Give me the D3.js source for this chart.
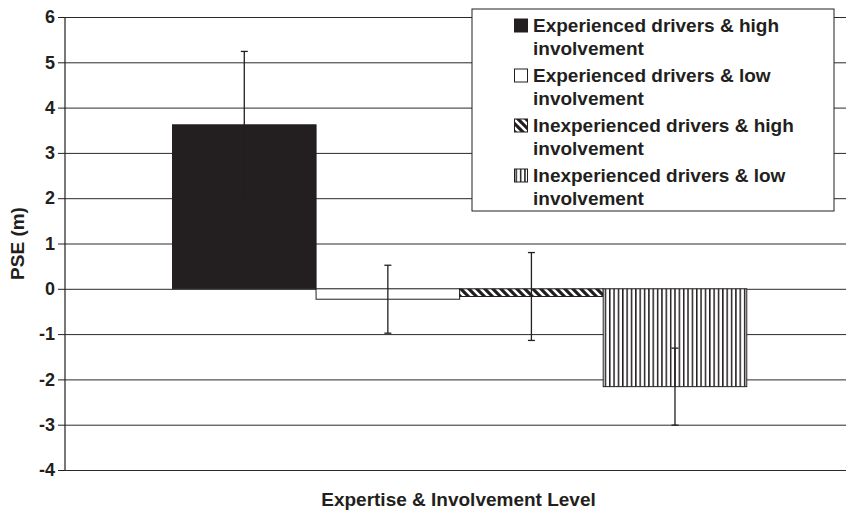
<!DOCTYPE html>
<html>
<head>
<meta charset="utf-8">
<script src="https://cdn.jsdelivr.net/npm/d3@7"></script>
<style>
    body { margin: 0; background: #fff; }
    svg { display: block; font-family: "Liberation Sans", Arial, sans-serif; font-weight: bold; }
</style>
</head>
<body>
<div id="chart"></div>
<script>
// Data
const groups = ["Expertise & Involvement Level"];
const series = [
    "Experienced drivers & high involvement",
    "Experienced drivers & low involvement",
    "Inexperienced drivers & high involvement",
    "Inexperienced drivers & low involvement"
];
const values = [3.62, -0.23, -0.17, -2.16];
const errors = [1.62, 0.75, 0.97, 0.85];
const yTicks = [-4, -3, -2, -1, 0, 1, 2, 3, 4, 5, 6];
const yTitle = "PSE (m)";
const xTitle = "Expertise & Involvement Level";

const width = 848;
const height = 510;
const margin = { top: 17, right: 2, bottom: 40, left: 65 };
const ink = "#231f20";

const svg = d3.select("#chart")
    .append("svg")
    .attr("width", width)
    .attr("height", height);

// patterns for the hatched bars
const defs = svg.append("defs");
const diag = defs.append("pattern")
    .attr("id", "diag")
    .attr("patternUnits", "userSpaceOnUse")
    .attr("width", 8)
    .attr("height", 8);
diag.append("rect").attr("width", 8).attr("height", 8).attr("fill", ink);
diag.append("path")
    .attr("d", "M0,0L8,8M-4,4L4,12M4,-4L12,4")
    .attr("stroke", "#fff")
    .attr("stroke-width", 2.6);

const vert = defs.append("pattern")
    .attr("id", "vert")
    .attr("patternUnits", "userSpaceOnUse")
    .attr("width", 4.35)
    .attr("height", 10);
vert.append("rect").attr("width", 4.35).attr("height", 10).attr("fill", "#fff");
vert.append("rect").attr("width", 1.5).attr("height", 10).attr("fill", ink);

const fills = [ink, "#fff", "url(#diag)", "url(#vert)"];

// Scales
const x0 = d3.scaleBand()
    .domain(groups)
    .range([margin.left, width - margin.right])
    .paddingOuter(0.18)
    .paddingInner(0)
    .align(0.52);

const x1 = d3.scaleBand()
    .domain(series)
    .range([0, x0.bandwidth()]);

const y = d3.scaleLinear()
    .domain([-4, 6])
    .range([height - margin.bottom, margin.top]);

// Gridlines + y axis
const yAxis = d3.axisLeft(y)
    .tickValues(yTicks)
    .tickSize(-(width - margin.left - margin.right))
    .tickPadding(10)
    .tickFormat(d => String(d));

const gy = svg.append("g")
    .attr("transform", `translate(${margin.left},0)`)
    .call(yAxis);
gy.select(".domain").remove();
gy.selectAll(".tick line")
    .attr("stroke", "#2a2a2a")
    .attr("stroke-width", 1);
gy.selectAll(".tick")
    .append("line")
    .attr("x1", -7)
    .attr("x2", 0)
    .attr("stroke", ink);
gy.selectAll(".tick text")
    .attr("fill", ink)
    .style("font-size", "18px");

// Bars
svg.append("g")
    .selectAll("rect")
    .data(series)
    .join("rect")
    .attr("x", d => x0(groups[0]) + x1(d))
    .attr("width", x1.bandwidth())
    .attr("y", (d, i) => y(Math.max(0, values[i])))
    .attr("height", (d, i) => Math.abs(y(values[i]) - y(0)))
    .attr("fill", (d, i) => fills[i])
    .attr("stroke", ink)
    .attr("stroke-width", 1);

// Error bars
const err = svg.append("g")
    .attr("stroke", ink)
    .attr("stroke-width", 1.3)
    .selectAll("g")
    .data(series)
    .join("g")
    .attr("transform", d => `translate(${x0(groups[0]) + x1(d) + x1.bandwidth() / 2},0)`);
err.append("line")
    .attr("y1", (d, i) => y(values[i] + errors[i]))
    .attr("y2", (d, i) => y(values[i] - errors[i]));
err.append("line")
    .attr("x1", -3.5).attr("x2", 3.5)
    .attr("y1", (d, i) => y(values[i] + errors[i]))
    .attr("y2", (d, i) => y(values[i] + errors[i]));
err.append("line")
    .attr("x1", -3.5).attr("x2", 3.5)
    .attr("y1", (d, i) => y(values[i] - errors[i]))
    .attr("y2", (d, i) => y(values[i] - errors[i]));

// Y axis line
svg.append("line")
    .attr("x1", margin.left).attr("x2", margin.left)
    .attr("y1", y(6)).attr("y2", y(-4))
    .attr("stroke", ink)
    .attr("stroke-width", 1.2);

// Axis titles
svg.append("text")
    .attr("x", (margin.left + width - margin.right) / 2 + 3)
    .attr("y", 506)
    .attr("text-anchor", "middle")
    .attr("fill", ink)
    .style("font-size", "19px")
    .text(xTitle);

svg.append("text")
    .attr("transform", `translate(24,${(y(6) + y(-4)) / 2}) rotate(-90)`)
    .attr("text-anchor", "middle")
    .attr("fill", ink)
    .style("font-size", "19px")
    .text(yTitle);

// Legend
const legend = svg.append("g").attr("transform", "translate(472,9)");
legend.append("rect")
    .attr("width", 362)
    .attr("height", 202)
    .attr("fill", "#fff")
    .attr("stroke", ink)
    .attr("stroke-width", 1);

const item = legend.selectAll(".item")
    .data(series)
    .join("g")
    .attr("class", "item")
    .attr("transform", (d, i) => `translate(0,${i * 50})`);
item.append("rect")
    .attr("x", 42.5)
    .attr("y", 10)
    .attr("width", 13)
    .attr("height", 13)
    .attr("fill", (d, i) => fills[i])
    .attr("stroke", ink);
item.append("text")
    .attr("fill", ink)
    .style("font-size", "19px")
    .selectAll("tspan")
    .data(d => {
        const k = d.lastIndexOf(" ");
        return [d.slice(0, k), d.slice(k + 1)];
    })
    .join("tspan")
    .attr("x", 61)
    .attr("y", (d, j) => 23 + j * 22.5)
    .text(d => d);
</script>
</body>
</html>
